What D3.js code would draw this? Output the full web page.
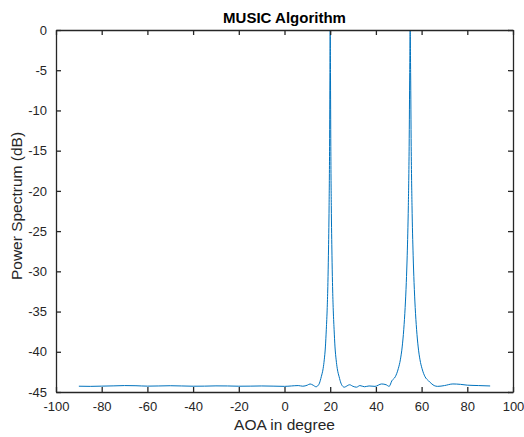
<!DOCTYPE html>
<html lang="en">
<head>
  <meta charset="UTF-8">
  <title>MUSIC Algorithm</title>
  <script src="https://cdn.jsdelivr.net/npm/d3@7"></script>
  <style>
    body { margin: 0; background: #fff; }
    text { font-family: "Liberation Sans", Arial, sans-serif; fill: #262626; }
  </style>
</head>
<body>
  <div id="chart"></div>

  <script>
    // spectrum (degrees, dB), one line per stretch
    const aoa = [
      -90, -85, -80, -75, -70, -65, -60, -55, -50, -45,
      -40, -35, -30, -25, -20, -15, -10, -5, 0, 3,
      6, 8, 10, 11.2, 12.5, 13.8,
      14.5, 15.3, 16.1, 16.9, 17.4, 17.9, 18.3, 18.7, 19.0, 19.22, 19.52, 19.73, 19.88,
      20,
      20.12, 20.27, 20.48, 20.78, 21.0, 21.3, 21.7, 22.1, 22.6, 23.1, 23.9, 24.7, 25.5,
      26.2, 27, 28.5, 30, 31.5, 33, 35, 37, 39.6, 42.5, 44.5, 45.8,
      47.0, 48.5, 49.8, 50.7, 51.5, 52.2, 52.8, 53.3, 53.7, 54.2, 54.55, 54.8,
      55,
      55.2, 55.45, 55.8, 56.3, 56.7, 57.2, 57.8, 58.5, 59.3, 60.2, 61.5, 63.0, 64.5, 65.5,
      67, 70, 73.7, 77, 80, 85, 90
    ];
    const power = [
      -44.28, -44.30, -44.27, -44.24, -44.20, -44.22, -44.27, -44.25, -44.22, -44.25,
      -44.28, -44.27, -44.24, -44.25, -44.28, -44.27, -44.25, -44.27, -44.30, -44.25,
      -44.20, -44.28, -44.15, -44.0, -44.15, -44.35,
      -44.25, -43.9, -43.1, -42.1, -41.0, -39.4, -37.2, -34.5, -31.4, -28.0, -21.8, -14.5, -5.3,
      0,
      -5.3, -14.5, -21.8, -28.0, -31.4, -34.5, -37.2, -39.4, -41.0, -42.1, -43.1, -43.9, -44.3,
      -44.4, -44.3, -44.1, -44.3, -44.4, -44.2, -44.35, -44.25, -44.3, -44.0, -44.1, -44.3,
      -43.6, -43.1, -42.1, -41.0, -39.4, -37.2, -34.5, -31.4, -28.0, -21.8, -14.5, -5.3,
      0,
      -5.3, -14.5, -21.8, -28.0, -31.4, -34.5, -37.2, -39.4, -41.0, -42.1, -43.1, -43.6, -44.0, -44.2,
      -44.3, -44.2, -44.0, -44.05, -44.15, -44.2, -44.25
    ];
    const xTicks = [-100, -80, -60, -40, -20, 0, 20, 40, 60, 80, 100];
    const yTicks = [0, -5, -10, -15, -20, -25, -30, -35, -40, -45];

    const width = 524,
      height = 437,
      margin = {top: 30, right: 11, bottom: 45, left: 56};

    const svg = d3.select('#chart')
      .append('svg')
        .attr('width', width)
        .attr('height', height);

    const x = d3.scaleLinear()
      .domain([-100, 100])
      .range([margin.left, width - margin.right]);

    const y = d3.scaleLinear()
      .domain([-45, 0])
      .range([height - margin.bottom, margin.top]);

    svg.append('clipPath')
        .attr('id', 'plotclip')
      .append('rect')
        .attr('x', margin.left)
        .attr('y', margin.top)
        .attr('width', width - margin.left - margin.right)
        .attr('height', height - margin.top - margin.bottom);

    const data = aoa.map((a, i) => [a, power[i]]);

    const line = d3.line()
      .x(d => x(d[0]))
      .y(d => y(d[1]))
      .curve(d3.curveMonotoneX);

    svg.append('path')
      .datum(data)
      .attr('clip-path', 'url(#plotclip)')
      .attr('fill', 'none')
      .attr('stroke', '#0072BD')
      .attr('stroke-width', 1)
      .attr('d', line);

    // axes, ticks pointing inward, box on
    const tickLen = 5;
    const plain = d => String(d);   // keep ascii hyphen like matlab
    const styleAxis = g => {
      g.select('.domain').attr('stroke', '#262626').attr('stroke-width', 1.3);
      g.selectAll('.tick line').attr('stroke', '#262626').attr('stroke-width', 1.3);
      g.selectAll('text')
        .attr('font-size', '13px')
        .attr('font-family', '"Liberation Sans", Arial, sans-serif')
        .attr('fill', '#262626');
    };

    svg.append('g')
      .attr('transform', `translate(0,${height - margin.bottom})`)
      .call(d3.axisBottom(x).tickValues(xTicks).tickFormat(plain).tickSizeInner(-tickLen).tickSizeOuter(0).tickPadding(10))
      .call(styleAxis);

    svg.append('g')
      .attr('transform', `translate(0,${margin.top})`)
      .call(d3.axisTop(x).tickValues(xTicks).tickSizeInner(-tickLen).tickSizeOuter(0).tickFormat(''))
      .call(styleAxis);

    svg.append('g')
      .attr('transform', `translate(${margin.left},0)`)
      .call(d3.axisLeft(y).tickValues(yTicks).tickFormat(plain).tickSizeInner(-tickLen).tickSizeOuter(0).tickPadding(9))
      .call(styleAxis);

    svg.append('g')
      .attr('transform', `translate(${width - margin.right},0)`)
      .call(d3.axisRight(y).tickValues(yTicks).tickSizeInner(-tickLen).tickSizeOuter(0).tickFormat(''))
      .call(styleAxis);

    svg.append('text')
      .attr('x', (margin.left + width - margin.right) / 2)
      .attr('y', 23)
      .attr('text-anchor', 'middle')
      .attr('font-size', '15px')
      .attr('font-weight', 'bold')
      .style('fill', '#000')
      .text('MUSIC Algorithm');

    svg.append('text')
      .attr('x', (margin.left + width - margin.right) / 2)
      .attr('y', 430)
      .attr('text-anchor', 'middle')
      .attr('font-size', '15.5px')
      .text('AOA in degree');

    svg.append('text')
      .attr('transform', `translate(22,206) rotate(-90)`)
      .attr('text-anchor', 'middle')
      .attr('font-size', '15.5px')
      .text('Power Spectrum (dB)');
  </script>
</body>
</html>
